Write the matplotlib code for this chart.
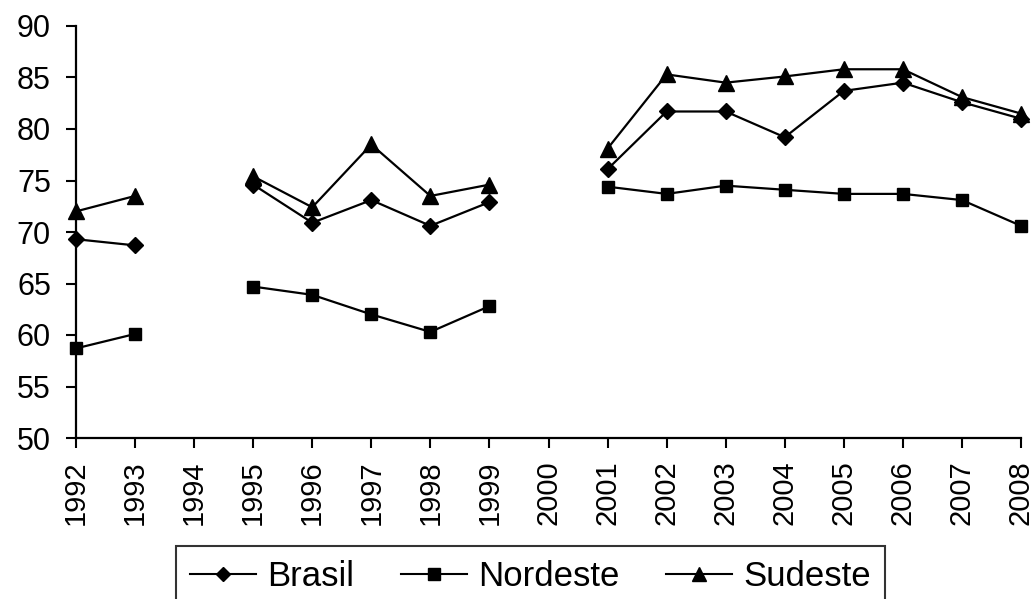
import numpy as np
import matplotlib
matplotlib.use("Agg")
import matplotlib.pyplot as plt
from matplotlib.lines import Line2D

plt.rcParams['font.family'] = ['Liberation Sans', 'DejaVu Sans']

years = list(range(1992, 2009))
nan = np.nan
brasil = [69.3, 68.7, nan, 74.6, 70.9, 73.1, 70.6, 72.9, nan,
          76.1, 81.7, 81.7, 79.2, 83.7, 84.5, 82.6, 81.0]
nordeste = [58.7, 60.1, nan, 64.7, 63.9, 62.0, 60.3, 62.8, nan,
            74.4, 73.7, 74.5, 74.1, 73.7, 73.7, 73.1, 70.6]
sudeste = [72.0, 73.5, nan, 75.4, 72.4, 78.5, 73.5, 74.6, nan,
           78.1, 85.3, 84.5, 85.1, 85.8, 85.8, 83.1, 81.5]

series_names = ["Brasil", "Nordeste", "Sudeste"]

fig = plt.figure(figsize=(10.34, 5.99), dpi=100)
ax = fig.add_axes([76 / 1034, 1 - 438 / 599, (1021 - 76) / 1034, (438 - 26) / 599])

ax.plot(years, brasil, color='black', lw=1.6, marker='D', ms=8.5, clip_on=False)
ax.plot(years, nordeste, color='black', lw=1.6, marker='s', ms=9.2, clip_on=False)
ax.plot(years, sudeste, color='black', lw=1.6, marker='^', ms=11.5, clip_on=False)

ax.set_xlim(1992, 2008)
ax.set_ylim(50, 90)
ax.set_yticks(range(50, 91, 5))
ax.set_xticks(years)
ax.set_xticklabels([str(y) for y in years], rotation=90)
ax.tick_params(axis='both', length=7, width=1.5, direction='out', color='black')
ax.tick_params(axis='y', labelsize=22, pad=11)
ax.tick_params(axis='x', labelsize=21, pad=9)
for side in ('top', 'right'):
    ax.spines[side].set_visible(False)
for side in ('left', 'bottom'):
    ax.spines[side].set_linewidth(1.6)

handles = [
    Line2D([], [], color='black', lw=1.5, marker='D', ms=7.5),
    Line2D([], [], color='black', lw=1.5, marker='s', ms=8),
    Line2D([], [], color='black', lw=1.5, marker='^', ms=10.5),
]
leg = fig.legend(handles, series_names, loc='upper left', ncol=3,
                 bbox_to_anchor=(176 / 1034, 1 - 546 / 599), fontsize=25,
                 frameon=True, fancybox=False, edgecolor='black',
                 handlelength=1.9, handletextpad=0.32, columnspacing=1.35,
                 borderpad=0.4, borderaxespad=0)
leg.get_frame().set_linewidth(1.5)

fig.savefig('out.png', dpi=100)
